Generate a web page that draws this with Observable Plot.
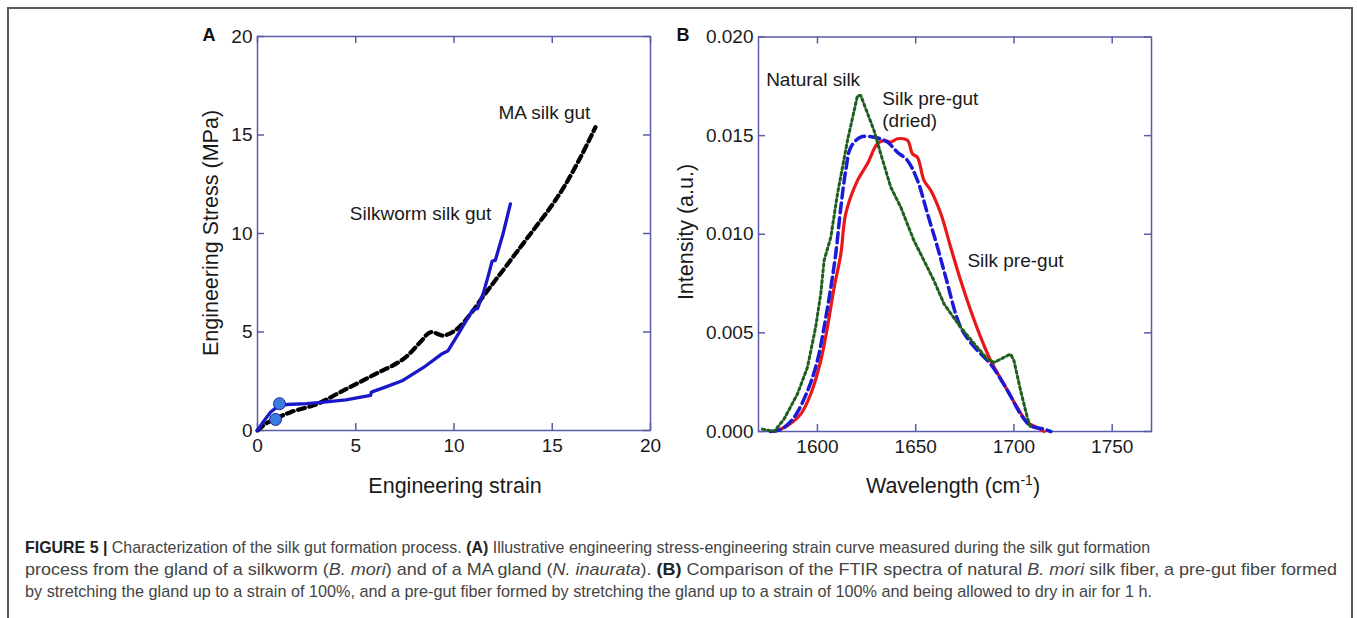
<!DOCTYPE html>
<html><head><meta charset="utf-8">
<script src="https://cdn.jsdelivr.net/npm/d3@7"></script>
<script src="https://cdn.jsdelivr.net/npm/@observablehq/plot@0.6"></script>
<style>
body{margin:0;background:#fff;}
#page{position:relative;width:1357px;height:618px;overflow:hidden;font-family:"Liberation Sans",Arial,sans-serif;background:#fff;}
#box{position:absolute;left:7px;top:7px;width:1346px;height:660px;border:2px solid #5a5a5a;box-sizing:border-box;}
.plot{position:absolute;top:0;}
.t{position:absolute;white-space:nowrap;line-height:1;transform:translate(-50%,-50%);color:#1a1a1a;font-size:21.5px;}
.rot{transform:translate(-50%,-50%) rotate(-90deg);}
.letter{font-weight:bold;font-size:18px;color:#111;}
.cap{position:absolute;left:25px;white-space:nowrap;font-size:17px;line-height:1;color:#444;transform-origin:0 0;}
.cap b{color:#222;}
</style></head><body><div id="page">
<div id="box"></div>
<div id="plotA" class="plot" style="left:0"></div>
<div id="plotB" class="plot" style="left:680px"></div>
<div class="t letter" style="left:209px;top:35px">A</div>
<div class="t letter" style="left:683px;top:35px">B</div>
<div class="t" style="left:455px;top:487px">Engineering strain</div>
<div class="t" style="left:953px;top:487px">Wavelength (cm<sup style="font-size:14px;vertical-align:8px;line-height:0">-1</sup>)</div>
<div class="t rot" style="left:212px;top:233px">Engineering Stress (MPa)</div>
<div class="t rot" style="left:687px;top:232px">Intensity (a.u.)</div>
<div class="cap" id="c1" style="top:539px"><b>FIGURE 5 |</b> Characterization of the silk gut formation process. <b>(A)</b> Illustrative engineering stress-engineering strain curve measured during the silk gut formation</div>
<div class="cap" id="c2" style="top:561px">process from the gland of a silkworm (<i>B. mori</i>) and of a MA gland (<i>N. inaurata</i>). <b>(B)</b> Comparison of the FTIR spectra of natural <i>B. mori</i> silk fiber, a pre-gut fiber formed</div>
<div class="cap" id="c3" style="top:583px">by stretching the gland up to a strain of 100%, and a pre-gut fiber formed by stretching the gland up to a strain of 100% and being allowed to dry in air for 1 h.</div>
</div>
<script>
// ---------- Panel A data ----------
const strainTicks = [0, 5, 10, 15, 20];
const stressTicks = [0, 5, 10, 15, 20];
const silkwormStrain = [0, 0.3, 0.66, 1.0, 1.5, 2.5, 3.5, 4.5, 5.75, 5.8, 6.5, 7.4, 8.45, 9.4, 9.7, 10.33, 10.93, 11.2, 11.5, 11.77, 11.94, 12.1, 12.5, 12.87];
const silkwormStress = [0, 0.45, 0.93, 1.2, 1.32, 1.36, 1.45, 1.56, 1.78, 1.95, 2.2, 2.54, 3.2, 3.9, 4.05, 5.08, 6.09, 6.2, 7.0, 7.95, 8.6, 8.63, 10.0, 11.5];
const maStrain = [0, 0.41, 0.92, 1.68, 3.04, 4.22, 5.75, 7.44, 8.3, 8.8, 9.48, 10.16, 10.84, 11.52, 12.87, 13.89, 14.91, 15.59, 16.44, 17.2];
const maStress = [0, 0.34, 0.6, 0.93, 1.35, 1.95, 2.74, 3.64, 4.5, 4.99, 4.82, 5.16, 5.92, 6.85, 8.63, 9.98, 11.33, 12.35, 13.87, 15.4];
const markerStrain = [0.92, 1.12];
const markerStress = [0.56, 1.36];
const labelsA = ["Silkworm silk gut", "MA silk gut"];
const labelsAStrain = [8.3, 14.6];
const labelsAStress = [11.0, 16.1];

// ---------- Panel B data ----------
const wnTicks = [1600, 1650, 1700, 1750];
const intTicks = [0, 0.005, 0.010, 0.015, 0.020];
const naturalWn = [1572, 1578, 1583, 1589.8, 1594.9, 1599.1, 1601.7, 1603.4, 1606.8, 1610.2, 1615.3, 1620.4, 1622, 1628.8, 1632.2, 1637.3, 1642.4, 1649.1, 1654.2, 1659.3, 1664.4, 1672.9, 1681.4, 1686.5, 1689.8, 1693.2, 1698.3, 1700, 1703.4, 1706.8, 1708.5];
const naturalInt = [0.00012, 0, 0.00063, 0.0019, 0.00325, 0.0053, 0.007, 0.00867, 0.00985, 0.01205, 0.01476, 0.01704, 0.01704, 0.01526, 0.01408, 0.01239, 0.01137, 0.00968, 0.00867, 0.00765, 0.00647, 0.00528, 0.00426, 0.00367, 0.0035, 0.00367, 0.00393, 0.00359, 0.00207, 0.00071, 0.0002];
const driedWn = [1576, 1581.3, 1588, 1595, 1600, 1603.4, 1606.8, 1609.3, 1611.9, 1614.4, 1617, 1622, 1628.8, 1635.6, 1640.7, 1645.8, 1650.9, 1656, 1661.1, 1665.3, 1672.9, 1679.7, 1688.2, 1696.6, 1703.4, 1708.5, 1715.3, 1718.7];
const driedInt = [0, 0.0001, 0.0007, 0.00207, 0.0036, 0.0053, 0.0073, 0.009, 0.01137, 0.01323, 0.01442, 0.01492, 0.01492, 0.01467, 0.01416, 0.01374, 0.01273, 0.01104, 0.00934, 0.00782, 0.00528, 0.0043, 0.0034, 0.0021, 0.00088, 0.00029, 0.00012, 0];
const pregutWn = [1578, 1584.8, 1591.5, 1596.6, 1601.7, 1605.1, 1608.5, 1611.9, 1614.4, 1620.4, 1625.4, 1630.5, 1633.9, 1637.3, 1640.7, 1645.8, 1648.3, 1650.9, 1654.2, 1657.7, 1662.8, 1667.8, 1672.9, 1678, 1683.1, 1688.2, 1694.9, 1701.7, 1706.8, 1711.9, 1715.3];
const pregutInt = [0, 0.0003, 0.00088, 0.0019, 0.0036, 0.0053, 0.0073, 0.009, 0.01104, 0.01273, 0.01357, 0.01459, 0.01476, 0.01467, 0.01484, 0.01476, 0.01408, 0.0139, 0.01273, 0.01222, 0.01104, 0.00934, 0.00765, 0.00613, 0.00477, 0.00359, 0.0024, 0.00122, 0.00046, 0.0002, 0];
const labelsB = ["Natural silk", "Silk pre-gut", "(dried)", "Silk pre-gut"];
const labelsBWn = [1597.8, 1633, 1633, 1676.3];
const labelsBInt = [0.0178, 0.01687, 0.01577, 0.00866];
const labelsBAnchor = ["middle", "start", "start", "start"];

// ---------- helpers ----------
const zip = (xs, ys) => xs.map((x, i) => ({x, y: ys[i]}));
const frameColor = "#5b5bab";
const font = "'Liberation Sans', Arial, sans-serif";
const baseStyle = {background: "transparent", fontFamily: font, fontSize: "19px", color: "#1a1a1a", overflow: "visible"};
const TICK = 7;

// inward ticks on all four sides, drawn as short rules inset from the frame
function frameAxes(xt, yt, xfmt, yfmt, innerW, innerH) {
  const tk = {stroke: frameColor, strokeWidth: 1.5};
  return [
    Plot.frame({stroke: frameColor, strokeWidth: 1.5}),
    Plot.ruleX(xt, {...tk, insetTop: innerH - TICK}),
    Plot.ruleX(xt, {...tk, insetBottom: innerH - TICK}),
    Plot.ruleY(yt, {...tk, insetRight: innerW - TICK}),
    Plot.ruleY(yt, {...tk, insetLeft: innerW - TICK}),
    Plot.axisX(xt, {anchor: "bottom", tickSize: 0, tickPadding: 8, label: null, tickFormat: xfmt, fill: "#1a1a1a"}),
    Plot.axisY(yt, {anchor: "left", tickSize: 0, tickPadding: 5, label: null, tickFormat: yfmt, fill: "#1a1a1a"})
  ];
}

const plotA = Plot.plot({
  width: 680, height: 520,
  marginLeft: 257, marginTop: 36, marginRight: 30, marginBottom: 90,
  x: {domain: [0, 20]}, y: {domain: [0, 20]},
  style: baseStyle,
  marks: [
    ...frameAxes(strainTicks, stressTicks, d => String(d), d => String(d), 393, 394),
    Plot.line(zip(maStrain, maStress), {x: "x", y: "y", stroke: "#000", strokeWidth: 4.2, strokeDasharray: "7,4.5", curve: "catmull-rom"}),
    Plot.line(zip(silkwormStrain, silkwormStress), {x: "x", y: "y", stroke: "#1818c8", strokeWidth: 3.3}),
    Plot.dot(zip(markerStrain, markerStress), {x: "x", y: "y", r: 6, fill: "#3b7be0", stroke: "#1a2a90", strokeWidth: 1}),
    Plot.text(labelsA.map((t, i) => ({t, x: labelsAStrain[i], y: labelsAStress[i]})), {x: "x", y: "y", text: "t", fontSize: 19, fill: "#1a1a1a"})
  ]
});
document.getElementById("plotA").append(plotA);

const labelRowsB = labelsB.map((t, i) => ({t, x: labelsBWn[i], y: labelsBInt[i], a: labelsBAnchor[i]}));
const plotB = Plot.plot({
  width: 500, height: 520,
  marginLeft: 78, marginTop: 36.5, marginRight: 29, marginBottom: 89,
  x: {domain: [1570, 1770]}, y: {domain: [0, 0.02]},
  style: baseStyle,
  marks: [
    ...frameAxes(wnTicks, intTicks, d => String(d), d3.format(".3f"), 393, 394.5),
    Plot.line(zip(pregutWn, pregutInt), {x: "x", y: "y", stroke: "#e81818", strokeWidth: 3.2, curve: "catmull-rom"}),
    Plot.line(zip(driedWn, driedInt), {x: "x", y: "y", stroke: "#1a1ad8", strokeWidth: 3.5, strokeDasharray: "10,5", curve: "catmull-rom"}),
    Plot.line(zip(naturalWn, naturalInt), {x: "x", y: "y", stroke: "#1e5e1e", strokeWidth: 3, strokeDasharray: "2.5,3"}),
    Plot.text(labelRowsB.filter(d => d.a === "middle"), {x: "x", y: "y", text: "t", fontSize: 19, fill: "#1a1a1a", textAnchor: "middle"}),
    Plot.text(labelRowsB.filter(d => d.a === "start"), {x: "x", y: "y", text: "t", fontSize: 19, fill: "#1a1a1a", textAnchor: "start"})
  ]
});
document.getElementById("plotB").append(plotB);

// fit caption lines to the reference line extents
const capRight = {c1: 1150, c2: 1337, c3: 1152};
for (const id of ["c1", "c2", "c3"]) {
  const el = document.getElementById(id);
  const w = el.getBoundingClientRect().width;
  el.style.transform = `scaleX(${(capRight[id] - 25) / w})`;
}
</script>
</body></html>
